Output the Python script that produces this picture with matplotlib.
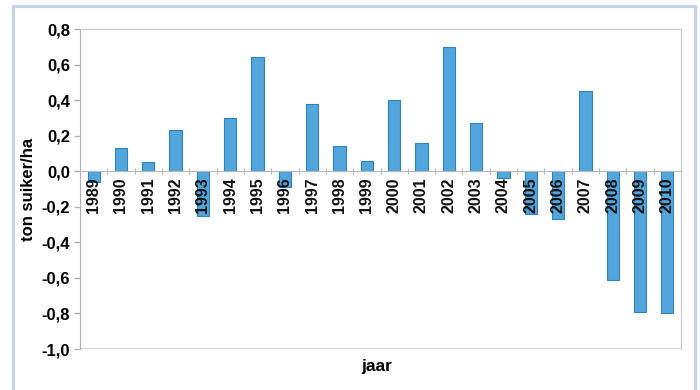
import numpy as np
import matplotlib
matplotlib.use('Agg')
import matplotlib.pyplot as plt
from matplotlib.patches import Rectangle
from matplotlib.ticker import FuncFormatter, FixedLocator

plt.rcParams['font.family'] = ['Liberation Sans', 'DejaVu Sans']

# data
jaren = [str(j) for j in range(1989, 2011)]
waarden = [-0.06, 0.13, 0.05, 0.23, -0.25, 0.30, 0.64, -0.09, 0.38, 0.14, 0.06,
           0.40, 0.16, 0.70, 0.27, -0.04, -0.24, -0.27, 0.45, -0.61, -0.79, -0.80]

fig = plt.figure(figsize=(7, 3.9), dpi=100)
ax = fig.add_axes([80 / 700, 41 / 390, 601 / 700, 320 / 390])

# lichtblauwe kader om de grafiek
fig.patches.append(Rectangle((13 / 700, -0.05), 682 / 700, 1 - 6 / 390 + 0.05,
                             transform=fig.transFigure, fill=False,
                             edgecolor='#c3d3ee', linewidth=2.2))

x = np.arange(len(jaren))
ax.bar(x, waarden, width=0.45, color='#52a6dc', edgecolor='#2f80bc',
       linewidth=0.8, zorder=2)

# jaartallen verticaal onder de nul-lijn
for i, j in enumerate(jaren):
    ax.text(i, -0.035, j, rotation=90, ha='center', va='top', fontsize=11.5,
            fontweight='bold', color='#111111', zorder=3)

ax.set_xlim(-0.5, len(jaren) - 0.5)
ax.set_ylim(-1.0, 0.8)
ax.set_yticks(np.arange(-1.0, 0.81, 0.2))
ax.yaxis.set_major_formatter(FuncFormatter(lambda v, p: f"{v:.1f}".replace('.', ',').replace('-0,0', '0,0')))
for lab in ax.get_yticklabels():
    lab.set_fontweight('bold')
ax.tick_params(axis='y', labelsize=12, length=4, color='#b0b0b0', width=1, pad=3)

# x-as op nul met streepjes tussen de categorieen
ax.spines['bottom'].set_position(('data', 0))
ax.spines['bottom'].set_color('#b8b8b8')
ax.xaxis.set_major_locator(FixedLocator(np.arange(0.5, len(jaren) - 1, 1.0)))
ax.tick_params(axis='x', direction='inout', length=5, color='#b8b8b8', labelbottom=False)

for s in ['left', 'top', 'right']:
    ax.spines[s].set_color('#c8c8c8')
ax.spines['left'].set_color('#b0b0b0')
ax.axhline(-1.0, color='#c8c8c8', linewidth=1.2, zorder=1)

ax.set_ylabel('ton suiker/ha', fontsize=12, fontweight='bold', labelpad=4)
fig.text(377 / 700, 1 - 366 / 390, 'jaar', ha='center', va='center',
         fontsize=12.5, fontweight='bold')

plt.savefig('out.png', dpi=100)
plt.close('all')
